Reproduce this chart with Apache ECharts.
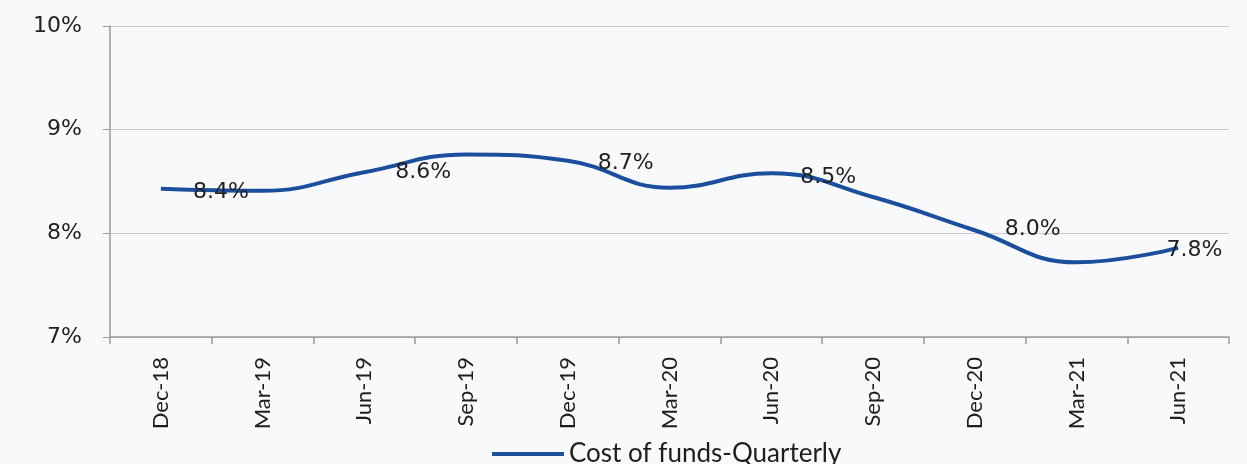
<!DOCTYPE html>
<html>
<head>
<meta charset="utf-8">
<script src="https://cdn.jsdelivr.net/npm/echarts@6/dist/echarts.min.js"></script>
<style>
  html, body { margin: 0; padding: 0; background: #f8f9fb; }
  #chart { width: 1247px; height: 464px; }
</style>
</head>
<body>
<div id="chart"></div>
<script>
// quarters on the x axis
const quarters = ['Dec-18', 'Mar-19', 'Jun-19', 'Sep-19', 'Dec-19', 'Mar-20',
  'Jun-20', 'Sep-20', 'Dec-20', 'Mar-21', 'Jun-21']
// cost of funds, %
const costOfFunds = [8.43, 8.41, 8.59, 8.76, 8.70, 8.44, 8.58, 8.35, 8.03, 7.72, 7.86]
// data labels as printed: where they sit (quarter index) and their value
const labelAt = [0.59, 2.58, 4.57, 6.56, 8.57, 10.16]
const labelVals = [8.40, 8.59, 8.68, 8.54, 8.04, 7.84]
const yTicks = { min: 7, max: 10, step: 1 }

const chart = echarts.init(document.getElementById('chart'))

const options = {
  backgroundColor: '#f8f9fb',
  animation: false,
  grid: { left: 110, right: 18, top: 26, bottom: 127 },
  legend: {
    left: 487,
    top: 436,
    itemWidth: 72,
    itemHeight: 4,
    itemGap: 10,
    icon: 'rect',
    data: ['Cost of funds-Quarterly'],
    textStyle: { fontFamily: 'Lato', fontSize: 26, color: '#1e1e1e' }
  },
  xAxis: [
    {
      type: 'category',
      data: quarters,
      boundaryGap: true,
      axisLine: { lineStyle: { color: '#9a9a9a', width: 1.5 } },
      axisTick: { show: true, length: 7, lineStyle: { color: '#9a9a9a', width: 1.5 } },
      axisLabel: {
        rotate: 90,
        margin: 20,
        fontFamily: 'Lato',
        fontSize: 22,
        color: '#1e1e1e'
      }
    },
    {
      type: 'value',
      min: -0.5,
      max: quarters.length - 0.5,
      show: false
    }
  ],
  yAxis: {
    type: 'value',
    min: yTicks.min,
    max: yTicks.max,
    interval: yTicks.step,
    axisLine: { show: true, onZero: false, lineStyle: { color: '#9a9a9a', width: 1.5 } },
    axisTick: { show: true, length: 7, lineStyle: { color: '#9a9a9a' } },
    splitLine: { lineStyle: { color: '#c9cbd3', width: 1.2 } },
    axisLabel: {
      margin: 28,
      formatter: '{value}%',
      fontFamily: 'DejaVu Sans',
      fontSize: 22,
      color: '#222'
    }
  },
  series: [
    {
      name: 'Cost of funds-Quarterly',
      type: 'line',
      data: costOfFunds,
      smooth: 0.45,
      showSymbol: false,
      symbol: 'none',
      lineStyle: { color: '#1b4f9e', width: 4 },
      itemStyle: { color: '#1b4f9e' }
    },
    {
      name: 'labels',
      type: 'scatter',
      xAxisIndex: 1,
      data: labelAt.map((x, i) => [x, labelVals[i]]),
      symbolSize: 0,
      silent: true,
      z: 5,
      itemStyle: { opacity: 1, color: 'rgba(0,0,0,0)' },
      label: {
        show: true,
        position: 'inside',
        formatter: p => p.value[1].toFixed(1) + '%',
        fontFamily: 'DejaVu Sans',
        fontSize: 22,
        color: '#222',
        textBorderWidth: 0
      }
    }
  ]
}

chart.setOption(options)
</script>
</body>
</html>
